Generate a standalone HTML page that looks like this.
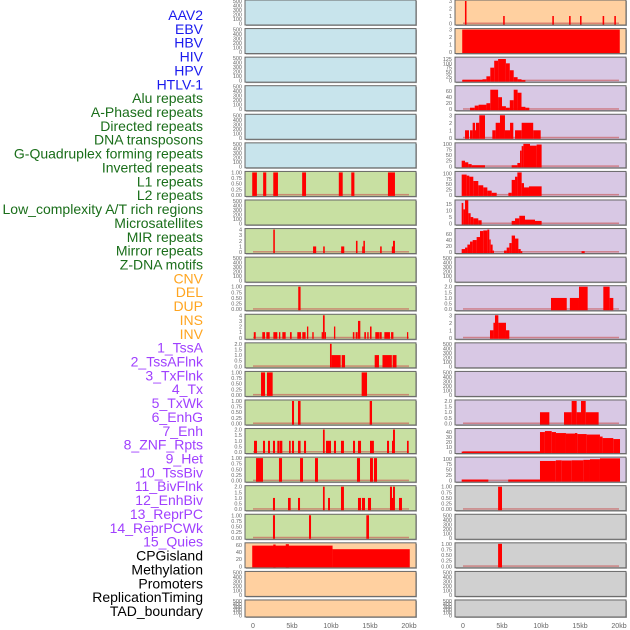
<!DOCTYPE html>
<html><head><meta charset="utf-8"><style>
html,body{margin:0;padding:0;background:#fff;width:630px;height:630px;overflow:hidden}
svg{display:block}
</style></head><body>
<svg id="chart" width="630" height="630" xmlns="http://www.w3.org/2000/svg"></svg>
<script>
const trackLabels=["AAV2","EBV","HBV","HIV","HPV","HTLV-1","Alu repeats","A-Phased repeats","Directed repeats","DNA transposons","G-Quadruplex forming repeats","Inverted repeats","L1 repeats","L2 repeats","Low_complexity A/T rich regions","Microsatellites","MIR repeats","Mirror repeats","Z-DNA motifs","CNV","DEL","DUP","INS","INV","1_TssA","2_TssAFlnk","3_TxFlnk","4_Tx","5_TxWk","6_EnhG","7_Enh","8_ZNF_Rpts","9_Het","10_TssBiv","11_BivFlnk","12_EnhBiv","13_ReprPC","14_ReprPCWk","15_Quies","CPGisland","Methylation","Promoters","ReplicationTiming","TAD_boundary"];
const labelColors=["#1a1aee","#1a1aee","#1a1aee","#1a1aee","#1a1aee","#1a1aee","#1a6e1a","#1a6e1a","#1a6e1a","#1a6e1a","#1a6e1a","#1a6e1a","#1a6e1a","#1a6e1a","#1a6e1a","#1a6e1a","#1a6e1a","#1a6e1a","#1a6e1a","#ffa520","#ffa520","#ffa520","#ffa520","#ffa520","#a040ff","#a040ff","#a040ff","#a040ff","#a040ff","#a040ff","#a040ff","#a040ff","#a040ff","#a040ff","#a040ff","#a040ff","#a040ff","#a040ff","#a040ff","#000","#000","#000","#000","#000"];
const xTicks=[0,5,10,15,20];
const xTickLabels=["0","5kb","10kb","15kb","20kb"];
const T500=[0,100,200,300,400,500],T1=[0,0.25,0.5,0.75,1],T2=[0,0.5,1,1.5,2],T3=[0,1,2,3],T4=[0,1,2,3,4];
const leftTracks=[
[T500,500,[]],[T500,500,[]],[T500,500,[]],[T500,500,[]],[T500,500,[]],[T500,500,[]],
[T1,1,[[-0.1,0.5,1],[1.3,1.7,1],[2.6,3.2,1],[6.3,6.8,1],[11.0,11.5,1],[12.6,13.0,1],[17.3,18.2,1]]],
[T500,500,[]],
[T4,4,[[2.6,2.8,4],[7.7,8.1,1],[9.0,9.2,1],[11.3,11.7,1],[13.2,13.4,2],[14.0,14.15,1],[14.15,14.35,2],[16.3,16.5,1],[17.8,17.95,1],[17.95,18.2,2]]],
[T500,500,[]],
[T1,1,[[5.8,6.1,1]]],
[T4,4,[[0.1,0.35,1],[1.19,1.54,1],[1.71,2.14,1],[2.61,3.12,1],[3.33,3.5,1],[3.76,4.19,1],[4.74,4.96,1],[5.68,6.15,1],[6.32,6.75,1],[6.92,7.09,2],[7.6,7.78,1],[8.8,8.97,1],[8.97,9.19,4],[9.19,9.36,1],[10.38,10.55,2],[12.8,13.0,1],[13.16,13.42,1],[13.46,13.76,3],[14.27,14.48,1],[14.65,14.82,1],[15.0,15.2,2],[15.68,16.15,1],[16.2,16.5,1],[16.84,17.56,1],[17.7,18.0,1],[19.74,19.9,1]]],
[T2,2,[[9.87,10.08,2],[10.08,11.24,1],[11.37,11.8,1],[15.6,16.15,1],[16.6,17.8,1],[17.9,18.4,1]]],
[T1,1,[[1.03,1.54,1],[1.79,2.52,1],[13.93,14.62,1]]],
[T1,1,[[5.0,5.26,1],[5.77,6.1,1],[14.96,15.26,1]]],
[T2,2,[[0.13,0.51,1],[1.28,1.54,1],[1.92,2.18,1],[2.56,2.82,1],[3.12,3.38,1],[3.42,3.76,1],[4.62,4.83,1],[5.0,5.26,1],[5.77,6.1,1],[6.54,6.8,1],[8.97,9.19,2],[9.36,10.0,1],[10.38,10.64,1],[11.28,11.66,1],[12.82,13.08,1],[13.46,13.85,1],[15.0,15.5,1],[17.18,17.44,1],[17.82,17.95,1],[17.95,18.2,2],[19.74,19.96,1]]],
[T1,1,[[0.39,1.28,1],[3.33,3.72,1],[6.03,6.41,1],[7.95,8.33,1],[13.33,13.72,1],[15.0,15.38,1],[15.51,15.9,1]]],
[T2,2,[[2.56,2.82,1],[4.49,4.83,1],[5.77,6.03,1],[8.97,9.19,2],[9.62,9.87,1],[11.28,11.66,2],[13.46,13.85,1],[13.97,14.36,1],[14.74,15.13,1],[17.56,17.82,2],[17.82,17.95,1],[17.95,18.2,2],[18.72,19.1,1]]],
[T1,1,[[2.56,2.82,1],[7.18,7.44,1],[14.53,14.87,1]]],
[[0,20,40,60],63,[[-0.1,10.2,58],[2.6,2.9,61],[4.2,4.6,62],[10.2,20.1,48]]],
[T500,500,[]],[T500,500,[]]
];
const rightTracks=[
[T3,3,[[0.25,0.45,3],[5.15,5.35,1],[11.45,11.65,1],[13.6,13.8,1],[15.0,15.2,1],[17.9,18.1,1],[19.4,19.6,1]]],
[T3,3,[[-0.1,20.1,3]]],
[[0,25,50,75,100,125],130,[[-0.1,2.5,5],[2.5,3,8],[3,3.5,25],[3.5,4,75],[4,4.5,115],[4.5,5.5,125],[5.5,6,100],[6,6.5,60],[6.5,7,20],[7,7.5,8],[7.5,8,3]]],
[[0,20,40,60],75,[[0.9,1.5,5],[1.5,2,12],[2,3,15],[3,3.5,20],[3.5,4.5,65],[4.5,5,40],[5,5.5,10],[5.5,6,5],[6,6.5,30],[6.5,7,65],[7,7.5,55],[7.5,8,8],[8,8.5,5]]],
[T3,3,[[0.26,0.77,1],[0.9,1.24,1],[1.24,1.54,2],[1.54,1.66,1],[1.66,2.09,2],[2.09,2.82,3],[3.76,4.19,1],[4.19,4.74,2],[4.74,5.38,3],[5.38,6.03,1],[6.03,6.45,2],[6.67,7.52,1],[7.52,9.0,2],[9.0,9.96,1]]],
[[0,25,50,75,100],100,[[-0.17,0.26,25],[0.26,0.68,18],[0.68,1.11,10],[1.11,2.82,5],[6.24,6.97,5],[6.97,7.31,15],[7.31,7.52,70],[7.52,7.74,90],[7.74,8.59,100],[8.59,9.44,92],[9.44,10.08,97]]],
[[0,25,50,75,100],105,[[-0.17,0.47,95],[0.47,0.81,90],[0.81,1.32,85],[1.32,1.96,65],[1.96,2.6,45],[2.6,3.12,35],[3.12,3.68,20],[3.68,4.32,10],[5.82,6.24,10],[6.24,6.67,70],[6.67,6.97,85],[6.97,7.52,105],[7.52,7.82,55],[7.82,8.46,35],[8.46,10.08,40]]],
[[0,5,10,15],17.5,[[-0.17,0.04,16],[0.04,0.26,11],[0.26,0.68,18],[0.68,0.98,8],[0.98,1.32,5],[1.32,1.96,4],[1.96,2.39,2.5],[6.24,6.67,2],[6.67,7.22,4],[7.22,7.95,6],[7.95,9.23,3],[9.23,10.08,2]]],
[[0,20,40,60],75,[[-0.17,0.26,10],[0.26,0.56,15],[0.56,0.9,25],[0.9,1.24,35],[1.24,1.75,40],[1.75,2.18,50],[2.18,2.6,70],[2.6,3.12,72],[3.12,3.37,75],[3.37,3.55,42],[3.55,3.8,25],[3.8,3.97,5],[5.26,5.6,5],[5.6,5.94,15],[5.94,6.24,30],[6.24,6.67,55],[6.67,7.1,45],[7.1,7.4,10],[7.4,7.6,3],[15.2,15.6,3]]],
[T500,500,[]],
[T2,2,[[11.28,13.3,1],[13.7,14.87,1],[14.87,15.98,2],[17.99,18.8,2],[18.8,19.27,1]]],
[T3,3,[[3.46,3.9,1],[3.9,4.1,2],[4.1,4.53,3],[4.53,5.51,2],[5.51,5.94,1]]],
[T500,500,[]],[T500,500,[]],
[T2,2,[[9.87,11.07,1],[12.95,13.93,1],[13.93,14.57,2],[14.57,15.13,1],[15.13,15.73,2],[15.73,17.39,1]]],
[[0,10,20,30,40],45,[[-0.17,9.87,1],[9.87,10.5,40],[10.5,11.37,42],[11.37,11.92,40],[11.92,13.2,38],[13.2,14.36,37],[14.36,14.66,38],[14.66,15.85,36],[15.85,17.56,35],[17.56,17.9,31],[17.9,19.27,28],[19.27,20.13,26]]],
[[0,25,50,75,100],103,[[-0.17,3.25,5],[5.8,9.87,5],[9.87,11.9,90],[11.9,12.65,93],[12.65,13.93,92],[13.93,15.43,93],[15.43,16.28,95],[16.28,17.56,98],[17.56,20.13,102]]],
[T1,1,[[4.5,5.0,1]]],
[T500,500,[]],
[T1,1,[[4.5,5.0,1]]],
[T500,500,[]],[T500,500,[]]
];
const leftBg=["#c8e4ec","#c8e4ec","#c8e4ec","#c8e4ec","#c8e4ec","#c8e4ec","#c8e0a2","#c8e0a2","#c8e0a2","#c8e0a2","#c8e0a2","#c8e0a2","#c8e0a2","#c8e0a2","#c8e0a2","#c8e0a2","#c8e0a2","#c8e0a2","#c8e0a2","#ffd0a0","#ffd0a0","#ffd0a0"];
const rightBg=["#ffd0a0","#ffd0a0","#d8c8e4","#d8c8e4","#d8c8e4","#d8c8e4","#d8c8e4","#d8c8e4","#d8c8e4","#d8c8e4","#d8c8e4","#d8c8e4","#d8c8e4","#d8c8e4","#d8c8e4","#d8c8e4","#d8c8e4","#d0d0d0","#d0d0d0","#d0d0d0","#d0d0d0","#d0d0d0"];

const NS="http://www.w3.org/2000/svg";
const svg=document.getElementById('chart');
function mk(tag,attrs,parent){const e=document.createElementNS(NS,tag);for(const k in attrs)e.setAttribute(k,attrs[k]);(parent||svg).appendChild(e);return e;}

trackLabels.forEach((t,i)=>{
  const el=mk('text',{x:203,y:20+i*13.86,'text-anchor':'end','font-family':'Liberation Sans, sans-serif','font-size':'14',fill:labelColors[i]});
  el.textContent=t;
  
  
});

function drawPanel(col,row,tr,bg){
  const px=col===0?245:455, pw=171;
  const zero=col===0?253:463, kbPx=7.8;
  const top=row*28.57, h=row===21?17:25;
  const xs=kb=>zero+kb*kbPx;
  const [ticks,ymax,segs]=tr;
  const ys=v=>top+h-1.5-(v/ymax)*(h-2.5);
  const g=mk('g',{});
  
  
  mk('rect',{x:px+1,y:top+1,width:pw,height:h,fill:'#aaa'},g);
  mk('rect',{x:px,y:top,width:pw,height:h,fill:bg,stroke:'#666','stroke-width':1},g);
  if(segs.length){
    const bl=mk('rect',{x:xs(0),y:ys(0)-1,width:20*kbPx,height:1.5,fill:'rgba(200,80,80,0.6)'},g);
    
    
  }
  segs.forEach(s=>{
    const x0=xs(s[0]),x1=xs(s[1]),y=ys(s[2]);
    const b=mk('rect',{x:x0,y:y,width:Math.max(1.2,x1-x0),height:ys(0)-y+1,fill:'#ff0000'},g);
    
    
  });
  ticks.forEach(t=>{
    const lab=mk('text',{x:px-3,y:ys(t)+2,'text-anchor':'end','font-family':'Liberation Sans, sans-serif','font-size':'5.5',fill:'#666'},g);
    lab.textContent=(ticks===T1)?t.toFixed(2):(ticks===T2?t.toFixed(1):String(t));
    
    
  });
}
for(let r=0;r<22;r++){drawPanel(0,r,leftTracks[r],leftBg[r]);drawPanel(1,r,rightTracks[r],rightBg[r]);}

[253,463].forEach((z,ci)=>{
  xTicks.forEach((t,i)=>{
    const el=mk('text',{x:z+t*7.8,y:628,'text-anchor':'middle','font-family':'Liberation Sans, sans-serif','font-size':'7',fill:'#666'});
    el.textContent=xTickLabels[i];
    
    
  });
});
</script>
</body></html>
